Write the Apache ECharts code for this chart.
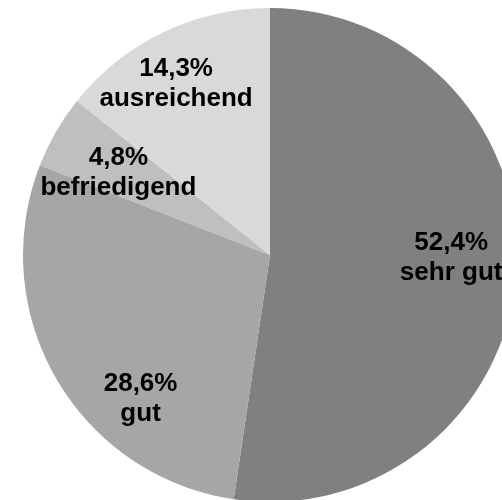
<!DOCTYPE html>
<html>
<head>
<meta charset="utf-8">
<script src="https://cdn.jsdelivr.net/npm/echarts@6/dist/echarts.min.js"></script>
<style>
html,body{margin:0;padding:0;background:#fff;}
#c{width:502px;height:500px;}
</style>
</head>
<body>
<div id="c"></div>
<script>
var categories = ['sehr gut', 'gut', 'befriedigend', 'ausreichend'];
var values = [52.4, 28.6, 4.8, 14.3];
var colors = ['#808080', '#a6a6a6', '#bfbfbf', '#d9d9d9'];
var labelShift = [[55, -6], [-20, 80], [-42, -19], [-39, -57]];

var chart = echarts.init(document.getElementById('c'), null, {renderer: 'canvas'});
chart.setOption({
  animation: false,
  backgroundColor: '#ffffff',
  series: [{
    type: 'pie',
    center: [270, 255],
    radius: [0, 247],
    startAngle: 90,
    clockwise: true,
    silent: true,
    data: categories.map(function (n, i) {
      return {name: n, value: values[i], itemStyle: {color: colors[i]}};
    }),
    label: {
      show: true,
      position: 'inside',
      color: '#000',
      fontFamily: 'Liberation Sans, Arial, sans-serif',
      fontWeight: 'bold',
      fontSize: 26,
      lineHeight: 30,
      align: 'center',
      formatter: function (p) {
        return p.value.toFixed(1).replace('.', ',') + '%\n' + p.name;
      }
    },
    labelLine: {show: false},
    labelLayout: function (p) {
      var s = labelShift[p.dataIndex];
      return {dx: s[0], dy: s[1]};
    },
    itemStyle: {borderWidth: 0}
  }]
});
</script>
</body>
</html>
